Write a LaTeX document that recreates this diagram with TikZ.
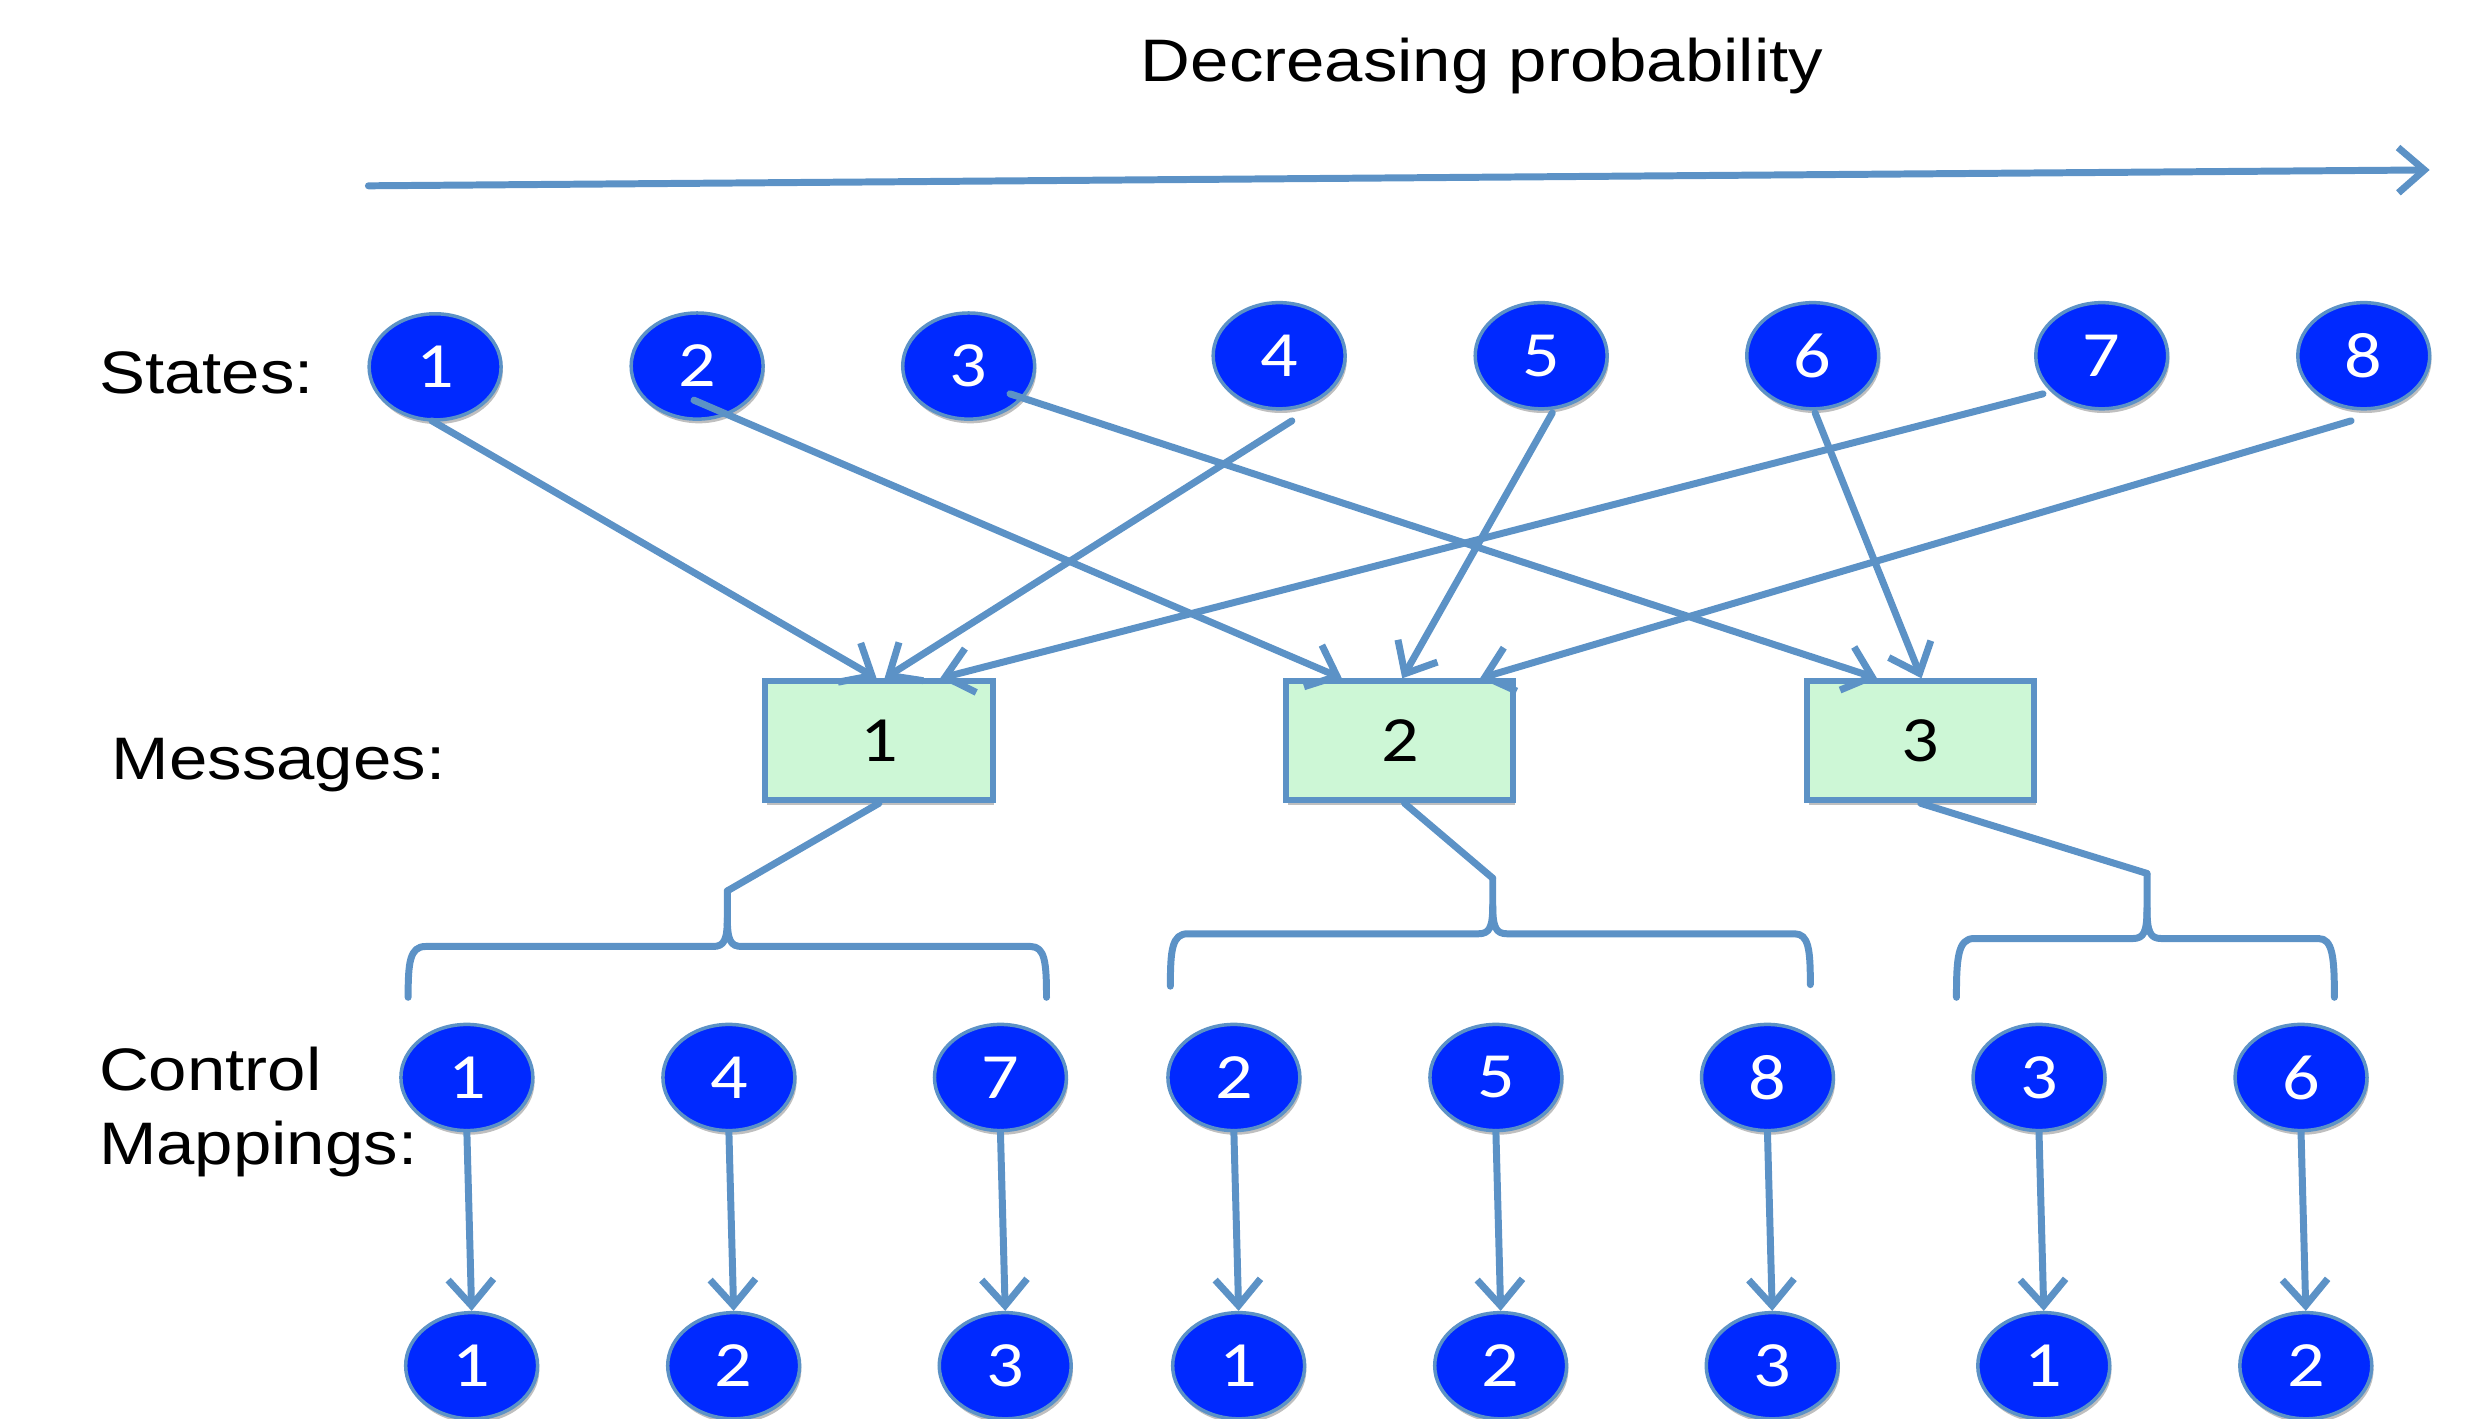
\documentclass[tikz,border=0pt]{standalone}
\usepackage{fontspec}
\setmainfont{Liberation Sans}[FakeStretch=1.15]
\newfontfamily\numfont{Carlito}[FakeStretch=1.15]
\usetikzlibrary{arrows.meta,shapes.geometric,calc,shadows}

\definecolor{linkblue}{RGB}{92,146,198}
\definecolor{dotblue}{RGB}{0,41,255}
\definecolor{msgfill}{RGB}{205,247,214}

\begin{document}
\begin{tikzpicture}[x=0.016cm,y=-0.016cm,
  link/.style={draw=linkblue,line width=2pt,line cap=round,line join=round},
  arr/.style={link,-{Straight Barb[length=7.5pt,width=13pt,line width=2pt]}},
  softshadow/.style={drop shadow={shadow xshift=0.5pt,shadow yshift=-1.2pt,opacity=0.25,fill=black}},
  dot/.style={ellipse,fill=dotblue,draw=linkblue,line width=1pt,
    minimum width=1.33cm,minimum height=1.07cm,inner sep=0pt,text=white,
    font=\numfont\fontsize{18.5}{18.5}\selectfont,softshadow},
  msg/.style={rectangle,fill=msgfill,draw=linkblue,line width=1.7pt,
    minimum width=2.29cm,minimum height=1.20cm,inner sep=0pt,
    font=\numfont\fontsize{18.5}{18.5}\selectfont,softshadow},
  rowlabel/.style={anchor=base west,inner sep=0pt,align=left,
    font=\fontsize{17.2}{21}\selectfont}]

\useasboundingbox (0,0) rectangle (1568,893);

% heading and probability axis
\node[rowlabel] (title) at (718,51) {Decreasing probability};
\coordinate (axisL) at (232,117);
\coordinate (axisR) at (1530,107);
\draw[arr] (axisL) -- (axisR);

% row labels
\node[rowlabel] (lstates) at (62,248) {States:};
\node[rowlabel] (lmsg) at (70,491) {Messages:};
\node[rowlabel] (lctrl) at (62,733) {Control\\Mappings:};

% states
\node[dot] (s1) at (274,231) {1};
\node[dot] (s2) at (439,230.5) {2};
\node[dot] (s3) at (610,230.5) {3};
\node[dot] (s4) at (805.5,224) {4};
\node[dot] (s5) at (970.5,224) {5};
\node[dot] (s6) at (1141.5,224) {6};
\node[dot] (s7) at (1323.5,224) {7};
\node[dot] (s8) at (1488.5,224) {8};

% messages
\node[msg] (m1) at (553.5,466.5) {1};
\node[msg] (m2) at (881.5,466.5) {2};
\node[msg] (m3) at (1209.5,466.5) {3};

% states mapped onto messages
\draw[arr] ($(s1.center)+(-2,34)$) -- ($(m1.north)+(-1.5,0)$);
\draw[arr] ($(s4.center)+(8,41)$) -- ($(m1.north)+(3.5,0)$);
\draw[arr] ($(s7.center)+(-37,24)$) -- ($(m1.north)+(38.5,0)$);
\draw[arr] ($(s2.center)+(-2,21.5)$) -- ($(m2.north)+(-36.5,0)$);
\draw[arr] ($(s5.center)+(7,36)$) -- ($(m2.north)+(1.5,0)$);
\draw[arr] ($(s8.center)+(-8,41)$) -- ($(m2.north)+(50.5,0)$);
\draw[arr] ($(s3.center)+(26,17.5)$) -- ($(m3.north)+(-27.5,0)$);
\draw[arr] ($(s6.center)+(1.5,36)$) -- ($(m3.north)+(0.5,0)$);

% braces grouping the control mappings of each message
\coordinate (b1) at (458,561);
\coordinate (b2) at (940,553);
\coordinate (b3) at (1352,550);
\draw[link] (m1.south) -- (b1);
\draw[link] ($(m2.south)+(3,0)$) -- (b2);
\draw[link] (m3.south) -- (b3);

\draw[link] (257,628) .. controls (257,606) and (258,596) .. (268,596) -- (449,596)
  .. controls (456,596) and (458,592) .. (458,578) -- (b1);
\draw[link] (458,578) .. controls (458,592) and (460,596) .. (467,596) -- (649,596)
  .. controls (658,596) and (659,606) .. (659,628);

\draw[link] (737,621) .. controls (737,598) and (738,588) .. (748,588) -- (931,588)
  .. controls (938,588) and (940,584) .. (940,570) -- (b2);
\draw[link] (940,570) .. controls (940,584) and (942,588) .. (949,588) -- (1130,588)
  .. controls (1139,588) and (1140,598) .. (1140,620);

\draw[link] (1232,628) .. controls (1232,603) and (1233,591) .. (1243,591) -- (1343,591)
  .. controls (1350,591) and (1352,587) .. (1352,572) -- (b3);
\draw[link] (1352,572) .. controls (1352,587) and (1354,591) .. (1361,591) -- (1460,591)
  .. controls (1469,591) and (1470,603) .. (1470,628);

% control mappings: state -> control
\node[dot] (c1) at (294,678.5) {1};
\node[dot] (c2) at (459,678.5) {4};
\node[dot] (c3) at (630,678.5) {7};
\node[dot] (c4) at (777,678.5) {2};
\node[dot] (c5) at (942,678.5) {5};
\node[dot] (c6) at (1113,678.5) {8};
\node[dot] (c7) at (1284,678.5) {3};
\node[dot] (c8) at (1449,678.5) {6};

\node[dot] (d1) at (297,860) {1};
\node[dot] (d2) at (462,860) {2};
\node[dot] (d3) at (633,860) {3};
\node[dot] (d4) at (780,860) {1};
\node[dot] (d5) at (945,860) {2};
\node[dot] (d6) at (1116,860) {3};
\node[dot] (d7) at (1287,860) {1};
\node[dot] (d8) at (1452,860) {2};

\foreach \k in {1,...,8}
  \draw[arr] (c\k.south) -- (d\k.north);

\end{tikzpicture}
\end{document}
